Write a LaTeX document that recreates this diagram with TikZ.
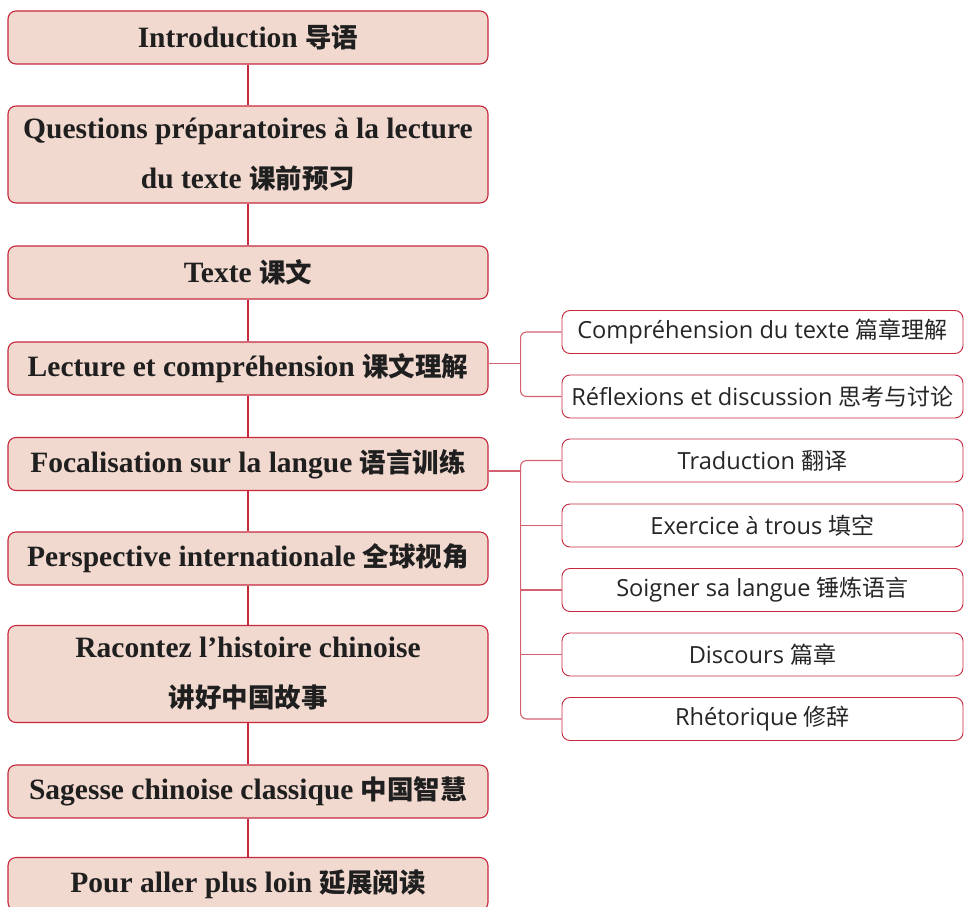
\documentclass[tikz,border=0pt]{standalone}
\usepackage{fontspec}
\setmainfont{Liberation Serif}
\newfontfamily\cjk{Noto Sans CJK SC}
\newfontfamily\sans{Open Sans}
\usetikzlibrary{positioning,calc}
\definecolor{boxred}{RGB}{198,40,62}
\definecolor{boxfill}{RGB}{242,217,207}
\definecolor{linkred}{RGB}{212,96,112}
\newcommand{\zh}[1]{{\cjk\bfseries\fontsize{26.5}{50}\selectfont #1}}
\newcommand{\zs}[1]{{\cjk\fontsize{23}{28}\selectfont #1}}

\begin{document}
\begin{tikzpicture}[x=1pt,y=-1pt]
    \tikzstyle{every node}=[rectangle,rounded corners=8,inner sep=0]
    \tikzstyle{main}=[draw=boxred,line width=1.1,fill=boxfill,minimum width=480,minimum height=53,align=center,text=black!88,font=\fontsize{29.5}{50}\selectfont\bfseries]
    \tikzstyle{tall}=[main,minimum height=97]
    \tikzstyle{sub}=[draw=boxred,line width=0.9,fill=white,minimum width=401,minimum height=43,text=black!85,font=\sans\fontsize{23.6}{28}\selectfont]
    \tikzstyle{stem}=[boxred,line width=2.2]
    \tikzstyle{link}=[linkred,line width=1.1,rounded corners=6]

    \useasboundingbox (0,0) rectangle (964,907);

    % main column
    \node[main] (m0) at (248,37.5) {Introduction \zh{导语}};
    \node[tall] (m1) at (248,154.5) {Questions préparatoires à la lecture\\du texte \zh{课前预习}};
    \node[main] (m2) at (248,272.5) {Texte \zh{课文}};
    \node[main] (m3) at (248,368.5) {Lecture et compréhension \zh{课文理解}};
    \node[main] (m4) at (248,464) {Focalisation sur la langue \zh{语言训练}};
    \node[main] (m5) at (248,558.5) {Perspective internationale \zh{全球视角}};
    \node[tall] (m6) at (248,674) {Racontez l’histoire chinoise\\\zh{讲好中国故事}};
    \node[main] (m7) at (248,791.5) {Sagesse chinoise classique \zh{中国智慧}};
    \node[main] (m8) at (248,884) {Pour aller plus loin \zh{延展阅读}};

    \foreach \a/\b in {m0/m1,m1/m2,m2/m3,m3/m4,m4/m5,m5/m6,m6/m7,m7/m8}
        \draw[stem] (\a.south) -- (\b.north);

    % sub items
    \node[sub] (s0) at (762.5,332) {Compréhension du texte \zs{篇章理解}};
    \node[sub] (s1) at (762.5,396.5) {Réflexions et discussion \zs{思考与讨论}};
    \node[sub] (s2) at (762.5,460.5) {Traduction \zs{翻译}};
    \node[sub] (s3) at (762.5,525.5) {Exercice à trous \zs{填空}};
    \node[sub] (s4) at (762.5,590) {Soigner sa langue \zs{锤炼语言}};
    \node[sub] (s5) at (762.5,654.5) {Discours \zs{篇章}};
    \node[sub] (s6) at (762.5,719) {Rhétorique \zs{修辞}};

    \coordinate (j3) at ($(m3.east)+(32,-5)$);
    \coordinate (j4) at ($(m4.east)+(32,7)$);

    \draw[link] (m3.east |- j3) -- (j3);
    \draw[link] (s0.west) -| (j3) |- (s1.west);

    \draw[link] (m4.east |- j4) -- (j4);
    \draw[link] (s2.west) -| (j4) |- (s6.west);
    \foreach \s in {s3,s4,s5}
        \draw[link] (\s.west -| j4) -- (\s.west);
\end{tikzpicture}
\end{document}
